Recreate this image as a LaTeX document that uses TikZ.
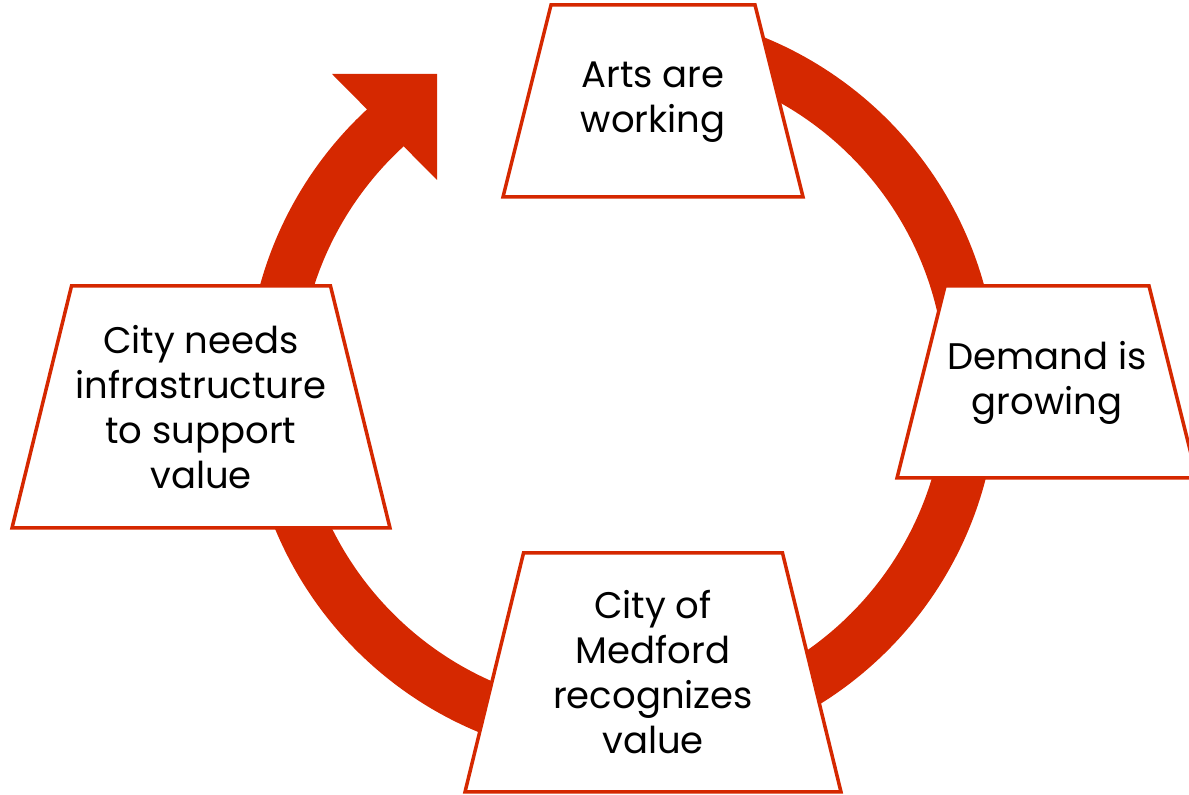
\documentclass[tikz,border=0pt]{standalone}
\usepackage{fontspec}
\setmainfont{Poppins}
\definecolor{ringred}{RGB}{213,40,0}
\begin{document}
\begin{tikzpicture}[x=1pt,y=1pt,
  boxshape/.style={draw=ringred, line width=3.5pt, fill=white, line join=miter},
  lbl/.style={align=center, font=\fontsize{37}{45}\selectfont, text=black, inner sep=0pt}]
\useasboundingbox (0,0) rectangle (1189,795);
\coordinate (c) at (622,410);
% circular arrow
\draw[ringred, line width=52pt] ([shift={(90:349.5)}]c) arc[start angle=90, end angle=-228.6, radius=349.5];
\coordinate (hb1) at (332,721);
\coordinate (htip) at (437,721);
\coordinate (hb2) at (437,615);
\fill[ringred] (hb1) -- (htip) -- (hb2) -- cycle;
% boxes
\draw[boxshape] (551,790) -- (755,790) -- (803,598) -- (503,598) -- cycle;
\node[lbl] (arts) at (653,693) {Arts are\\working};
\draw[boxshape] (945,509) -- (1149,509) -- (1197,317) -- (897,317) -- cycle;
\node[lbl] (demand) at (1047,412) {Demand is\\growing};
\draw[boxshape] (71.5,509) -- (330.5,509) -- (390,267) -- (12,267) -- cycle;
\node[lbl] (needs) at (201,388) {City needs\\infrastructure\\to support\\value};
\draw[boxshape] (523.5,242) -- (782.5,242) -- (841,3) -- (465,3) -- cycle;
\node[lbl] (medford) at (653,122.5) {City of\\Medford\\recognizes\\value};
\end{tikzpicture}
\end{document}
